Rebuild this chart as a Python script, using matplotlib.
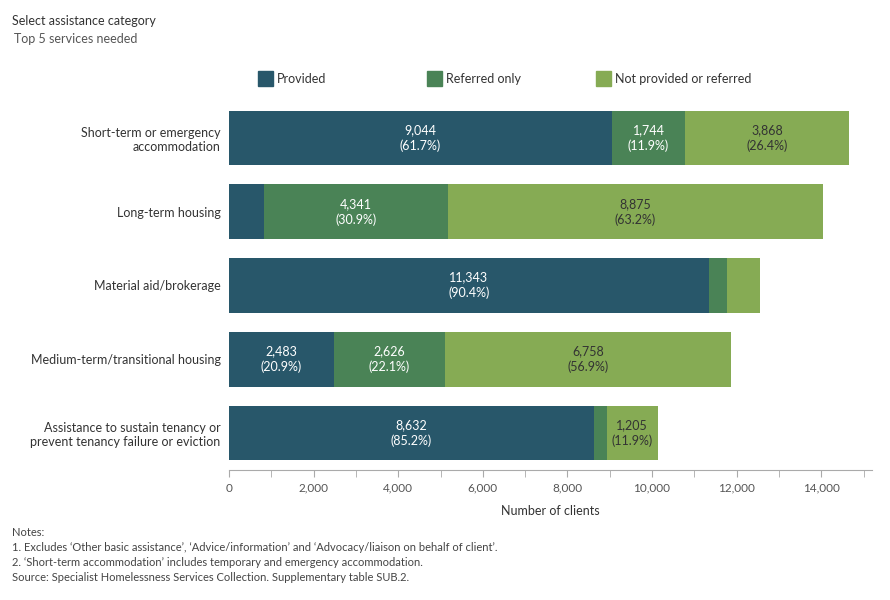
import matplotlib
matplotlib.use("Agg")
import matplotlib.pyplot as plt
from matplotlib.patches import Rectangle

plt.rcParams['font.family'] = ['Lato', 'DejaVu Sans']

categories = [
    "Short-term or emergency\naccommodation",
    "Long-term housing",
    "Material aid/brokerage",
    "Medium-term/transitional housing",
    "Assistance to sustain tenancy or\nprevent tenancy failure or eviction",
]
provided = [9044, 827, 11343, 2483, 8632]
referred = [1744, 4341, 420, 2626, 294]
not_provided = [3868, 8875, 785, 6758, 1205]
series_names = ["Provided", "Referred only", "Not provided or referred"]
colors = ["#28576A", "#4A8356", "#86AB54"]
text_colors = ["white", "white", "#333333"]
xticks = list(range(0, 15000, 2000))
notes = [
    "Notes:",
    "1. Excludes \u2018Other basic assistance\u2019, \u2018Advice/information\u2019 and \u2018Advocacy/liaison on behalf of client\u2019.",
    "2. \u2018Short-term accommodation\u2019 includes temporary and emergency accommodation.",
    "Source: Specialist Homelessness Services Collection. Supplementary table SUB.2.",
]

fig = plt.figure(figsize=(8.9, 6), dpi=100)
ax = fig.add_axes([229/890, 1-470/600, (872-229)/890, (470-101)/600])

series = [provided, referred, not_provided]
totals = [sum(v) for v in zip(*series)]
left = [0]*len(categories)
ypos = list(range(len(categories)))
for vals, col, tcol in zip(series, colors, text_colors):
    ax.barh(ypos, vals, left=left, height=0.74, color=col, edgecolor='none')
    for i, v in enumerate(vals):
        if v >= 1000:
            pct = v / totals[i] * 100
            ax.text(left[i] + v/2, i, f"{v:,}\n({pct:.1f}%)", ha='center', va='center',
                    fontsize=9, color=tcol, linespacing=1.3)
    left = [l + v for l, v in zip(left, vals)]

ax.set_ylim(4.5, -0.5)
ax.set_xlim(0, 15200)
ax.set_yticks(ypos)
ax.set_yticklabels(categories, fontsize=9, color='#333333', multialignment='right')
ax.tick_params(axis='y', length=0, pad=6)
ax.set_xticks(xticks)
ax.set_xticks(range(1000, 16000, 2000), minor=True)
ax.set_xticklabels([f"{t:,}" for t in xticks], fontsize=8.5, color='#555555')
ax.tick_params(axis='x', which='both', length=5, color='#aaaaaa', pad=4)
for s in ['top', 'right', 'left']:
    ax.spines[s].set_visible(False)
ax.spines['bottom'].set_color('#aaaaaa')
ax.set_xlabel("Number of clients", fontsize=9, color='#333333', labelpad=8)

# legend
leg_x = [258, 427, 596]
for x, name, col in zip(leg_x, series_names, colors):
    fig.patches.append(Rectangle((x/890, 1-86/600), 15/890, 15/600, transform=fig.transFigure,
                                 color=col, figure=fig))
    fig.text((x+19)/890, 1-79/600, name, fontsize=9, color='#333333', va='center', ha='left')

fig.text(12/890, 1-21/600, "Select assistance category", fontsize=9, color='#333333', va='center')
fig.text(14/890, 1-39/600, "Top 5 services needed", fontsize=9, color='#555555', va='center')

for k, line in enumerate(notes):
    fig.text(12/890, 1-(532+15.3*k)/600, line, fontsize=8, color='#444444', va='center')

fig.savefig("out.png", dpi=100)
